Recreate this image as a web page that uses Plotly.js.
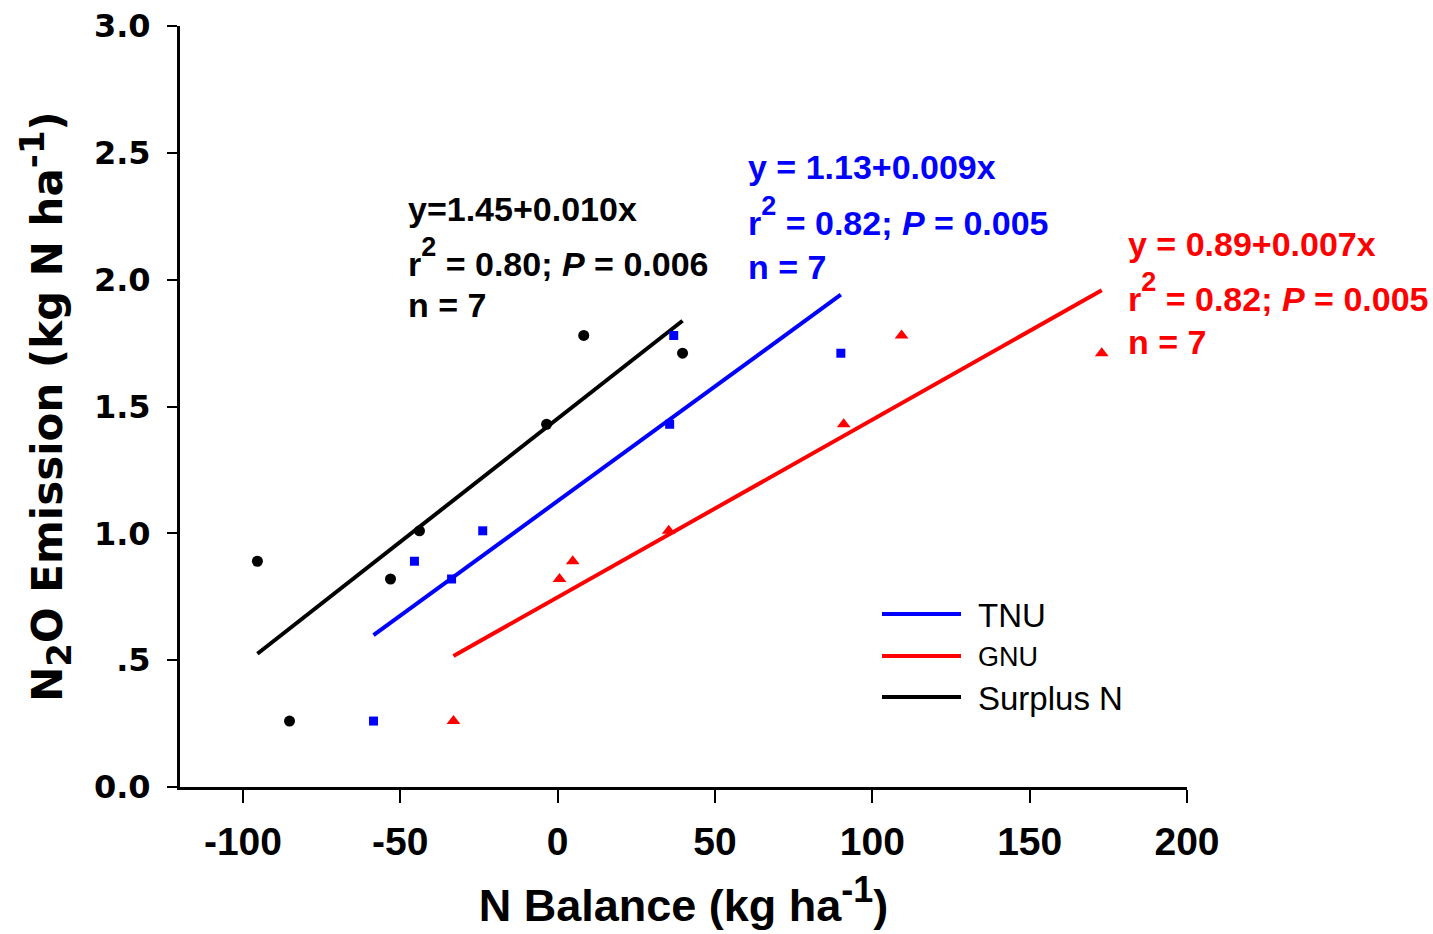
<!DOCTYPE html>
<html>
<head>
<meta charset="utf-8">
<script src="https://cdn.plot.ly/plotly-3.0.1.min.js"></script>
<style>
  html, body { margin: 0; padding: 0; background: #ffffff; }
  #chart { width: 1433px; height: 934px; }
</style>
</head>
<body>
<div id="chart"></div>
<script>
// Annual N2O emission per site (kg N ha-1), shared by all three N-balance definitions
const emission = [0.26, 0.82, 0.89, 1.01, 1.43, 1.78, 1.71];

// N balance (kg ha-1) for the same seven sites
const tnuBalance = [-58.5, -33.7, -45.5, -23.8, 35.6, 36.9, 90.0];
const gnuBalance = [-33.1, 0.6, 4.8, 35.3, 90.9, 109.3, 172.9];
const surplusBalance = [-85.2, -53.1, -95.4, -43.9, -3.5, 8.3, 39.7];

const seriesNames = ['TNU', 'GNU', 'Surplus N'];
const seriesColors = ['#0000ff', '#ff0000', '#000000'];

// Regression statistics printed beside each fit
const eqTexts = ['y = 1.13+0.009x', 'y = 0.89+0.007x', 'y=1.45+0.010x'];
const r2Texts = ['0.82', '0.82', '0.80'];
const pTexts = ['0.005', '0.005', '0.006'];
const nTexts = ['7', '7', '7'];

// Axis ticks
const xTicks = [-100, -50, 0, 50, 100, 150, 200];
const xTickText = ['-100', '-50', '0', '50', '100', '150', '200'];
const yTicks = [0, 0.5, 1.0, 1.5, 2.0, 2.5, 3.0];
const yTickText = ['0.0', '.5', '1.0', '1.5', '2.0', '2.5', '3.0'];

// Least-squares fit over the observed range of x
function fitLine(xs, ys) {
  const n = xs.length;
  const mx = xs.reduce((a, b) => a + b, 0) / n;
  const my = ys.reduce((a, b) => a + b, 0) / n;
  let sxy = 0, sxx = 0;
  for (let i = 0; i < n; i++) {
    sxy += (xs[i] - mx) * (ys[i] - my);
    sxx += (xs[i] - mx) * (xs[i] - mx);
  }
  const b = sxy / sxx;
  const a = my - b * mx;
  const x0 = Math.min(...xs), x1 = Math.max(...xs);
  return { x: [x0, x1], y: [a + b * x0, a + b * x1] };
}

const W = 1433, H = 934;
const M = { l: 180, r: 246, t: 26, b: 147 };
const plotW = W - M.l - M.r, plotH = H - M.t - M.b;
const px = (x) => (x - M.l) / plotW;          // page pixel -> paper x
const py = (y) => (H - M.b - y) / plotH;      // page pixel -> paper y

const FONT = 'Liberation Sans, Arial, sans-serif';
const WIDE = 'DejaVu Sans, Verdana, sans-serif';
const balances = [tnuBalance, gnuBalance, surplusBalance];
const symbols = ['square', 'triangle-up', 'circle'];
const symbolSizes = [9, 12, 11];

const traces = [];
balances.forEach((xs, i) => {
  const f = fitLine(xs, emission);
  traces.push({
    x: f.x, y: f.y, mode: 'lines', name: seriesNames[i],
    line: { color: seriesColors[i], width: 4 }, showlegend: false, hoverinfo: 'skip'
  });
});
balances.forEach((xs, i) => {
  traces.push({
    x: xs, y: emission, mode: 'markers', name: seriesNames[i],
    marker: { color: seriesColors[i], symbol: symbols[i], size: symbolSizes[i], line: { width: 0 } },
    showlegend: false
  });
});

// Equation blocks: left edge and baselines of the three text lines (page pixels)
const blockPos = [
  { left: 746, base: [180, 236, 280] },
  { left: 1126, base: [257, 312, 355] },
  { left: 406, base: [222, 277, 318] }
];
const eqSize = 34;
// raised exponent, a little larger than a plain <sup>
const bigSup = (t) => '<span style="font-size:27px;baseline-shift:20px">' + t + '</span>';
const annotations = [];
blockPos.forEach((p, i) => {
  const lines = [
    eqTexts[i],
    'r' + bigSup('2') + ' = ' + r2Texts[i] + '; <i>P</i> = ' + pTexts[i],
    'n = ' + nTexts[i]
  ];
  lines.forEach((t, k) => {
    annotations.push({
      xref: 'paper', yref: 'paper', x: px(p.left), y: py(p.base[k] + 0.212 * eqSize + 1),
      xanchor: 'left', yanchor: 'bottom', showarrow: false, text: t,
      font: { family: FONT, size: eqSize, color: seriesColors[i], weight: 700 }
    });
  });
});

// Key: line sample plus label for each fit
const keyY = [614, 656, 697];
const keySize = [33, 27, 33];
const shapes = [];
seriesNames.forEach((name, i) => {
  shapes.push({
    type: 'line', xref: 'paper', yref: 'paper',
    x0: px(882), x1: px(961), y0: py(keyY[i]), y1: py(keyY[i]),
    line: { color: seriesColors[i], width: 4 }
  });
  annotations.push({
    xref: 'paper', yref: 'paper', x: px(976), y: py(keyY[i] + 1),
    xanchor: 'left', yanchor: 'middle', showarrow: false, text: name,
    font: { family: FONT, size: keySize[i], color: '#000000' }
  });
});

const layout = {
  width: W, height: H,
  margin: M,
  paper_bgcolor: '#ffffff', plot_bgcolor: '#ffffff',
  showlegend: false,
  font: { family: FONT, color: '#000000' },
  xaxis: {
    range: [-120, 200], tickvals: xTicks, ticktext: xTickText,
    ticks: 'outside', ticklen: 13, tickwidth: 2, tickcolor: '#000000',
    showline: true, linewidth: 3, linecolor: '#000000',
    showgrid: false, zeroline: false, ticklabelstandoff: 5,
    tickfont: { family: FONT, size: 39, weight: 700 },
    title: { text: 'N Balance (kg ha<sup><span style="font-size:36px">-1</span></sup>)', standoff: 28,
             font: { family: FONT, size: 45, weight: 700 } }
  },
  yaxis: {
    range: [0, 3], tickvals: yTicks, ticktext: yTickText,
    ticks: 'outside', ticklen: 10, tickwidth: 2, tickcolor: '#000000',
    showline: true, linewidth: 3, linecolor: '#000000',
    showgrid: false, zeroline: false, ticklabelstandoff: 10,
    tickfont: { family: WIDE, size: 32, weight: 700 },
    title: { text: 'N<sub><span style="font-size:34px">2</span></sub>O Emission (kg N ha<sup><span style="font-size:34px">-1</span></sup>)', standoff: 19,
             font: { family: WIDE, size: 42, weight: 700 } }
  },
  shapes: shapes,
  annotations: annotations
};

Plotly.newPlot('chart', traces, layout, { displayModeBar: false, staticPlot: true });
</script>
</body>
</html>
